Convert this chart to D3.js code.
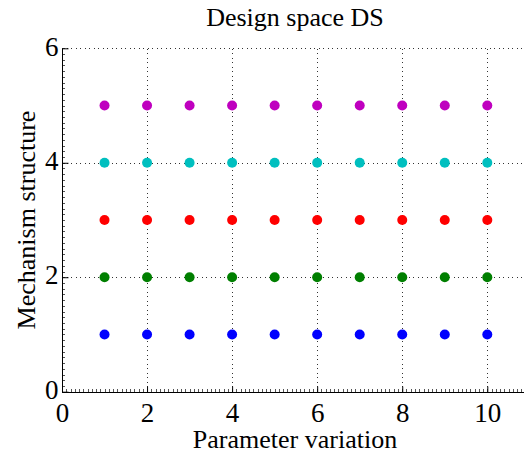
<!DOCTYPE html>
<html><head><meta charset="utf-8">
<script src="https://cdn.jsdelivr.net/npm/d3@7"></script>
</head>
<body style="margin:0">
<script>
const parameterValues = [1,2,3,4,5,6,7,8,9,10];
const structures = [1,2,3,4,5];
const structureColors = ["#0000ff","#007f00","#ff0000","#00bfbf","#bf00bf"];
const xTicks = [0,2,4,6,8,10];
const yTicks = [0,2,4,6];
const titleText = "Design space DS";
const xLabel = "Parameter variation";
const yLabel = "Mechanism structure";

const W = 524, H = 456;
const L = 62, T = 48.3, B = 391.7;
const x = d3.scaleLinear().domain([0,11]).range([L, L + 11*42.53]);
const y = d3.scaleLinear().domain([0,6]).range([B, T]);
const FONT = "Liberation Serif";
function setFont(sel, size){
  sel.attr("font-family", FONT).attr("font-size", size).attr("fill", "#000");
}

const svg = d3.select("body").append("svg").attr("width", W).attr("height", H)
  .style("display","block");

// grid
const grid = svg.append("g").attr("stroke","#333").attr("stroke-width",1).attr("stroke-dasharray","1,3.5").attr("shape-rendering","crispEdges");
grid.selectAll("line.v").data(xTicks.filter(d=>d>0)).join("line")
  .attr("x1",d=>Math.round(x(d))+0.5).attr("x2",d=>Math.round(x(d))+0.5).attr("y1",B).attr("y2",T);
grid.selectAll("line.h").data(yTicks.filter(d=>d>0)).join("line")
  .attr("y1",d=>Math.round(y(d))+0.5).attr("y2",d=>Math.round(y(d))+0.5).attr("x1",L).attr("x2",x(11));

// minor ticks
const xMinor = d3.range(0, 11.001, 0.1);
const yMinor = d3.range(0, 6.001, 0.1);
const mt = svg.append("g").attr("stroke","#555").attr("stroke-width",1).attr("shape-rendering","crispEdges");
mt.selectAll("line.xm").data(xMinor).join("line")
  .attr("x1",d=>Math.round(x(d))+0.5).attr("x2",d=>Math.round(x(d))+0.5).attr("y1",Math.round(B)).attr("y2",Math.round(B)-3);
mt.selectAll("line.ym").data(yMinor).join("line")
  .attr("y1",d=>Math.round(y(d))+0.5).attr("y2",d=>Math.round(y(d))+0.5).attr("x1",L).attr("x2",L+3);

// axes
const xAxis = d3.axisBottom(x).tickValues(xTicks).tickSize(-6).tickPadding(10).tickFormat(d3.format("d"));
const yAxis = d3.axisLeft(y).tickValues(yTicks).tickSize(-6).tickPadding(10).tickFormat(d3.format("d"));
const gx = svg.append("g").attr("transform",`translate(0,${Math.round(B)+0.5})`).call(xAxis);
const gy = svg.append("g").attr("transform",`translate(${L+0.5},0)`).call(yAxis);
[gx,gy].forEach(g=>{
  g.attr("font-family",FONT).attr("font-size",27);
  g.select(".domain").attr("stroke","#000");
  g.selectAll(".tick line").attr("stroke","#000");
  g.selectAll(".tick text").call(setFont, 27);
});
gx.select(".domain").attr("d",`M${L},0H${x(11)}`);
gy.select(".domain").attr("d",`M0,${B}V${T}`);
gx.selectAll(".tick text").attr("dy","0").attr("y",29.5);
gy.selectAll(".tick text").attr("x",-4).attr("dy","0.25em");

// points
const pts = [];
structures.forEach((s,i)=>parameterValues.forEach(p=>pts.push({p,s,c:structureColors[i]})));
svg.append("g").selectAll("circle").data(pts).join("circle")
  .attr("cx",d=>x(d.p)).attr("cy",d=>y(d.s)).attr("r",5).attr("fill",d=>d.c);

// labels
svg.append("text").call(setFont, 26).attr("x",295).attr("y",26).attr("text-anchor","middle").text(titleText);
svg.append("text").call(setFont, 26).attr("x",295).attr("y",448).attr("text-anchor","middle").text(xLabel);
svg.append("text").call(setFont, 26).attr("transform",`translate(35,${(T+B)/2}) rotate(-90)`).attr("text-anchor","middle").text(yLabel);
</script>
</body></html>
